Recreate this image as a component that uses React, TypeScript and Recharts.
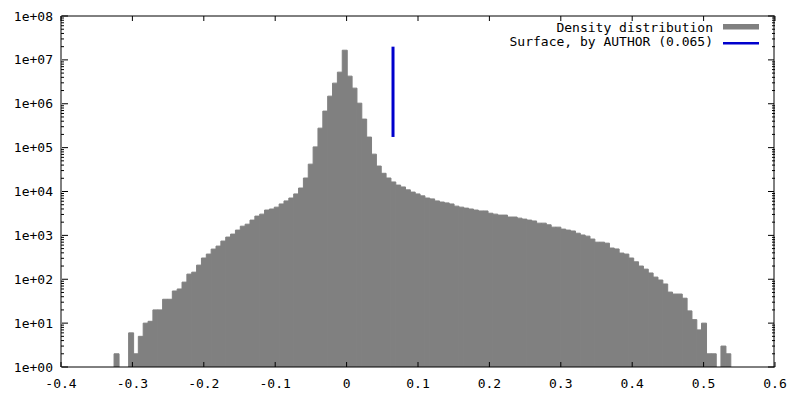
import { ComposedChart, Bar, XAxis, YAxis, ReferenceLine, Legend } from 'recharts'

// histogram bins: left edge of first bin and bin width
const binStart = -0.3257
const binWidth = 0.0068

// counts per bin (0 = empty bin)
const densityCounts = [
  2, 0, 0, 6, 2, 5, 10, 11, 20, 20,
  35, 35, 54, 60, 86, 131, 145, 210, 305, 375,
  487, 570, 742, 915, 1070, 1320, 1620, 1800, 2230, 2750,
  3050, 3780, 3990, 4400, 5200, 6100, 7100, 8800, 12000, 20300,
  42000, 104000, 278000, 680000, 1490000, 2950000, 5250000, 16600000, 4260000, 2270000,
  1030000, 447000, 174000, 71000, 38000, 26000, 20300, 16500, 14000, 12700,
  10900, 9700, 8800, 7950, 7100, 6780, 6100, 5750, 5500, 5200,
  4640, 4400, 4180, 3990, 3780, 3600, 3600, 3200, 3050, 2900,
  2900, 2620, 2620, 2470, 2350, 2230, 2130, 1900, 1900, 1740,
  1540, 1540, 1390, 1320, 1260, 1120, 1020, 960, 825, 700,
  700, 665, 515, 490, 395, 375, 305, 250, 200, 170,
  139, 112, 96, 78, 51, 46, 46, 37, 19, 12,
  7, 10, 2, 2, 0, 3, 2,
]

const xTicks = [-0.4, -0.3, -0.2, -0.1, 0, 0.1, 0.2, 0.3, 0.4, 0.5, 0.6]
const xTickLabels = ['-0.4', '-0.3', '-0.2', '-0.1', '0', '0.1', '0.2', '0.3', '0.4', '0.5', '0.6']
const yTicks = [1, 1e1, 1e2, 1e3, 1e4, 1e5, 1e6, 1e7, 1e8]
const yTickLabels = ['1e+00', '1e+01', '1e+02', '1e+03', '1e+04', '1e+05', '1e+06', '1e+07', '1e+08']
const minorSteps = [2, 3, 4, 5, 6, 7, 8, 9]

const surfaceX = 0.065
const surfaceSpan = [1.75e5, 2e7]

const legendLabels = ['Density distribution', 'Surface, by AUTHOR (0.065)']
const legendColors = ['#808080', '#0000cd']

const yMinorTicks = yTicks.slice(0, -1).flatMap((d) => minorSteps.map((m) => m * d))

const data = densityCounts
  .map((count, i) => ({ x: binStart + binWidth * (i + 0.5), count }))
  .filter((d) => d.count > 0)

const font = '"DejaVu Sans Mono", monospace'
const tickStyle = { fontSize: 13, fill: '#000', fontFamily: font }
const black = { stroke: '#000' }

const xLabel = (v: number) => xTickLabels[xTicks.findIndex((t) => Math.abs(t - v) < 1e-9)] ?? String(v)
const yLabel = (v: number) => yTickLabels[yTicks.findIndex((t) => Math.abs(t / v - 1) < 1e-6)] ?? String(v)

// tick-only axes: draw the tick line, no label
const NoLabel = () => <g />

function KeyBox() {
  return (
    <svg width={290} height={40} style={{ display: 'block', fontFamily: font, fontSize: 13 }}>
      <text x={223} y={22} textAnchor="end" fill="#000">{legendLabels[0]}</text>
      <rect x={233} y={14} width={36} height={5.5} fill={legendColors[0]} />
      <text x={223} y={36} textAnchor="end" fill="#000">{legendLabels[1]}</text>
      <line x1={233} x2={269} y1={33.3} y2={33.3} stroke={legendColors[1]} strokeWidth={2.5} />
    </svg>
  )
}

export default function App() {
  const xTickAxis = { dataKey: 'x', type: 'number' as const, mirror: true, height: 1, domain: [-0.4, 0.6], allowDataOverflow: true, ticks: xTicks, interval: 0 as const, tick: NoLabel, tickSize: 5, tickLine: black }
  const yTickAxis = { dataKey: 'count', scale: 'log' as const, type: 'number' as const, mirror: true, width: 1, domain: [1, 1e8], allowDataOverflow: true, interval: 0 as const, tick: NoLabel, tickLine: black }
  return (
    <div style={{ position: 'absolute', left: 0, top: 0, width: 800, height: 400, background: '#fff', fontFamily: font }}>
      <ComposedChart
        width={800}
        height={400}
        data={data}
        margin={{ top: 16, right: 25, bottom: 0, left: 0 }}
        barCategoryGap={0}
        barGap={0}
      >
        <XAxis
          dataKey="x"
          type="number"
          domain={[-0.4, 0.6]}
          allowDataOverflow
          ticks={xTicks}
          interval={0}
          tickFormatter={xLabel}
          tick={tickStyle}
          tickLine={false}
          tickSize={0}
          tickMargin={12}
          height={33}
          axisLine={black}
        />
        <XAxis xAxisId="bt" orientation="bottom" axisLine={false} {...xTickAxis} />
        <XAxis xAxisId="tp" orientation="top" axisLine={black} {...xTickAxis} />

        <YAxis
          dataKey="count"
          scale="log"
          type="number"
          domain={[1, 1e8]}
          allowDataOverflow
          ticks={yTicks}
          interval={0}
          tickFormatter={yLabel}
          tick={tickStyle}
          tickLine={false}
          tickSize={0}
          tickMargin={8}
          width={61}
          axisLine={black}
        />
        <YAxis yAxisId="lt" orientation="left" ticks={yTicks} tickSize={6} axisLine={false} {...yTickAxis} />
        <YAxis yAxisId="lm" orientation="left" ticks={yMinorTicks} tickSize={3} axisLine={false} {...yTickAxis} />
        <YAxis yAxisId="rt" orientation="right" ticks={yTicks} tickSize={6} axisLine={black} {...yTickAxis} />
        <YAxis yAxisId="rm" orientation="right" ticks={yMinorTicks} tickSize={3} axisLine={false} {...yTickAxis} />

        <Bar dataKey="count" fill="#808080" stroke="#808080" strokeWidth={1} isAnimationActive={false} />
        <ReferenceLine
          segment={[
            { x: surfaceX, y: surfaceSpan[0] },
            { x: surfaceX, y: surfaceSpan[1] },
          ]}
          stroke={legendColors[1]}
          strokeWidth={3}
        />
        <Legend
          layout="vertical"
          align="center"
          verticalAlign="middle"
          content={() => <KeyBox />}
          wrapperStyle={{ position: 'absolute', left: 490, top: 10, width: 290, height: 40 }}
        />
      </ComposedChart>
    </div>
  )
}
